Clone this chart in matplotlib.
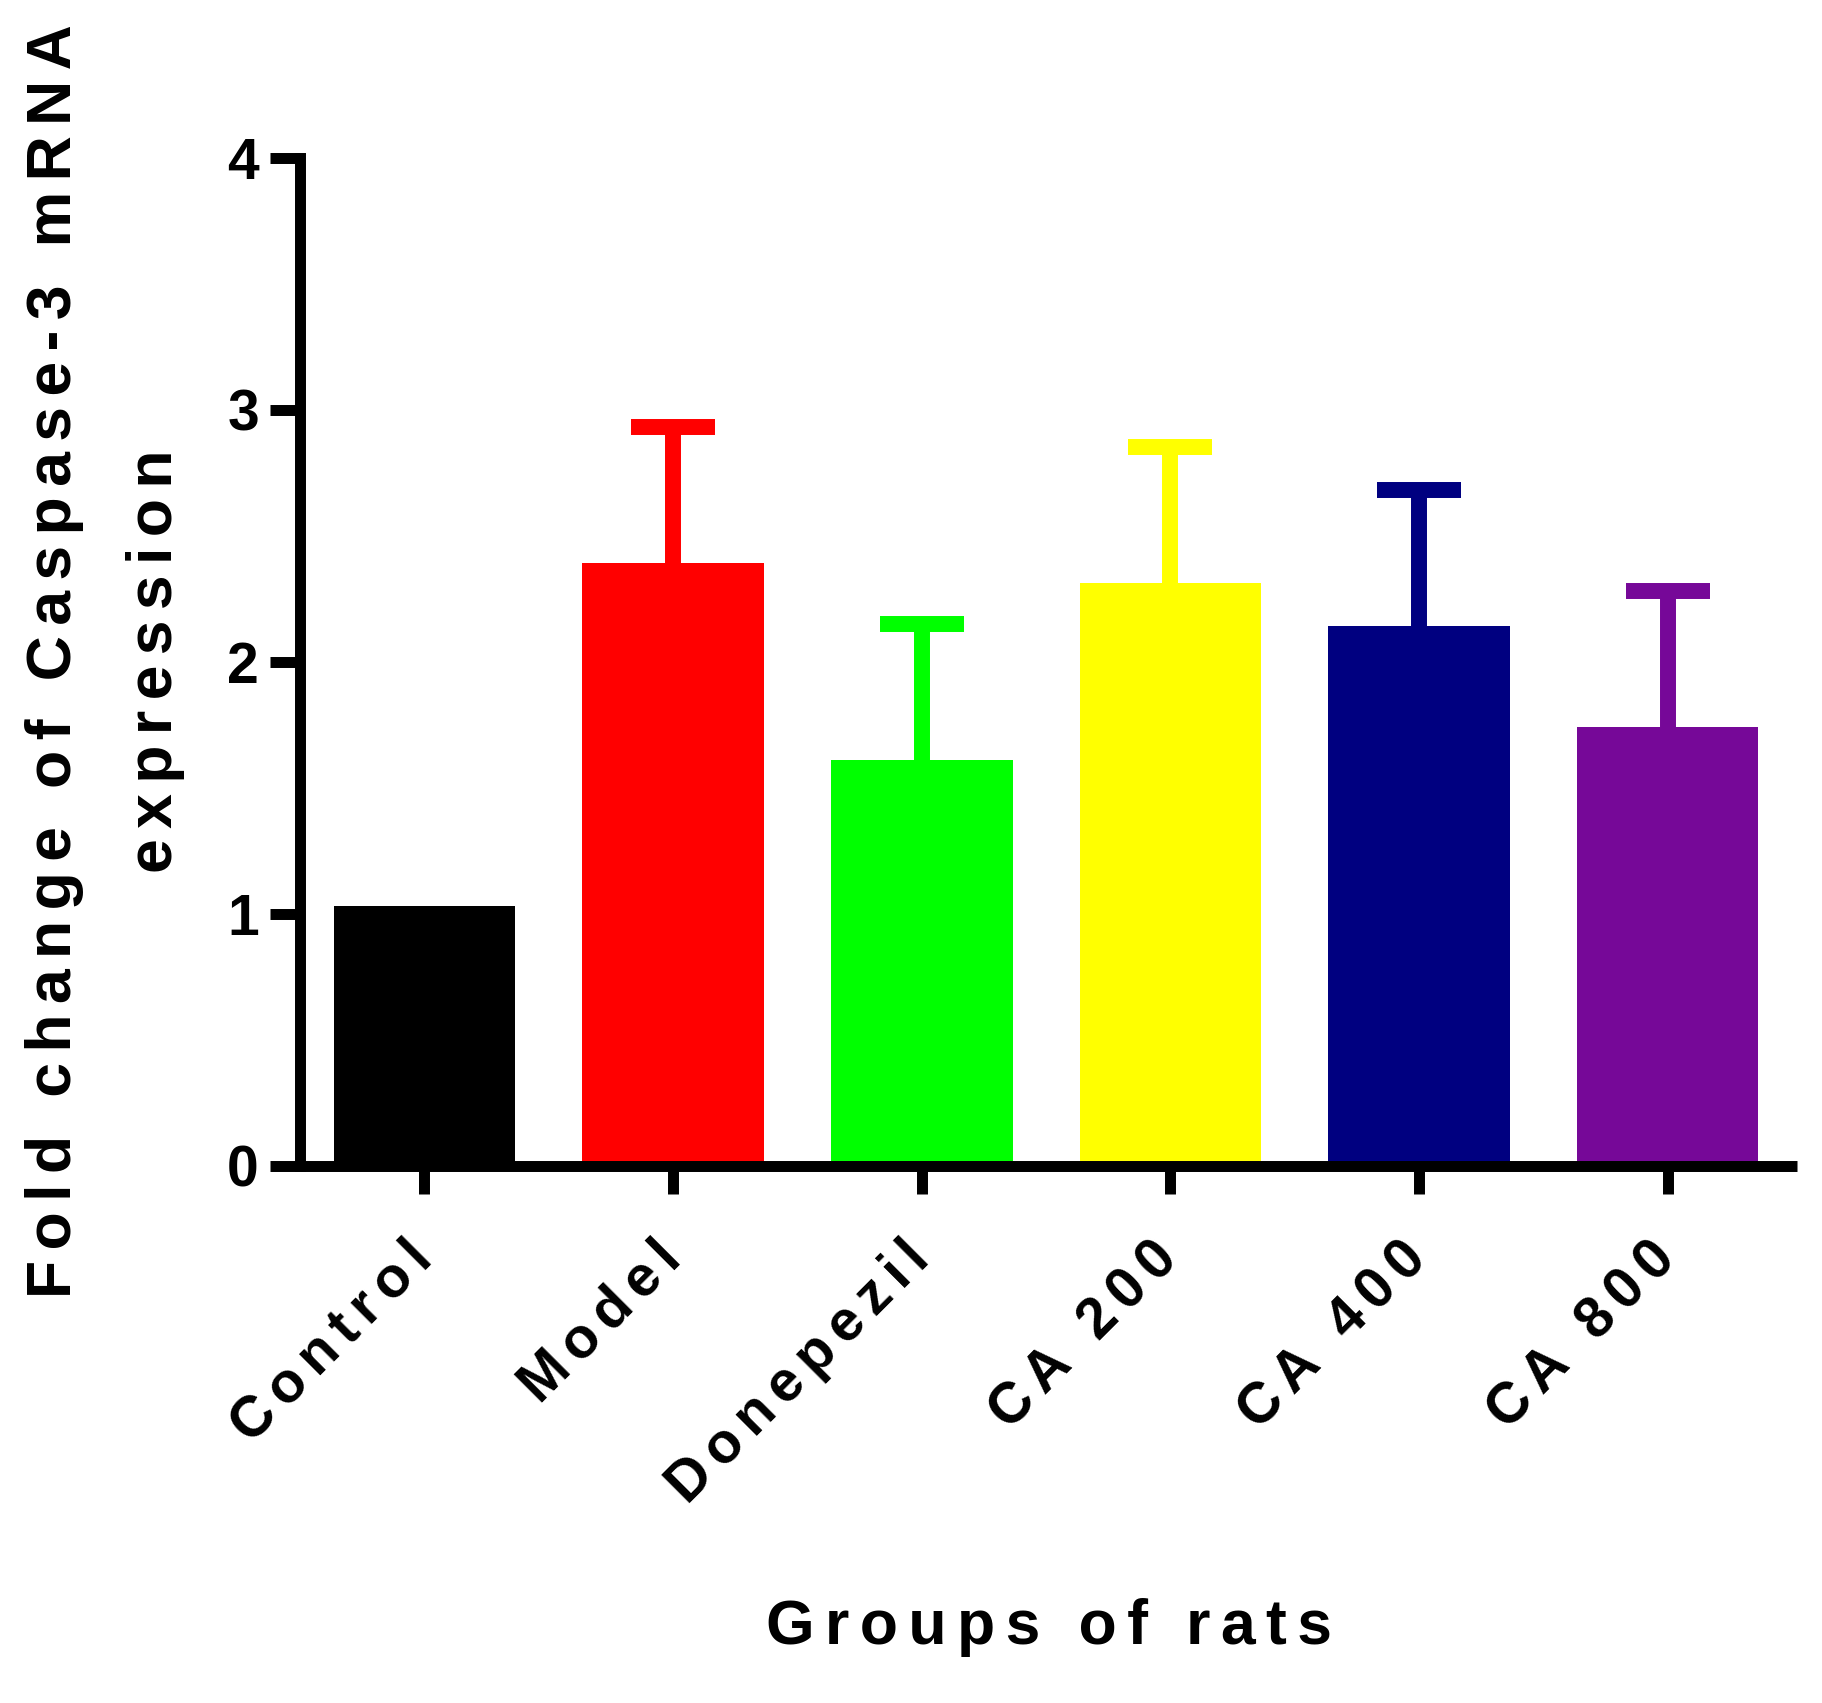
import numpy as np
import matplotlib.pyplot as plt
from matplotlib import transforms

# values
groups = ['Control', 'Model', 'Donepezil', 'CA 200', 'CA 400', 'CA 800']
means = [1.03, 2.39, 1.61, 2.31, 2.14, 1.74]
errors = [0.0, 0.54, 0.54, 0.54, 0.54, 0.54]
colors = ['#000000', '#ff0000', '#00ff00', '#ffff00', '#000080', '#760898']
yticks = [0, 1, 2, 3, 4]

# Prism-style letter spacing (six-per-em space between letters)
GAP = '\u2006'


def spaced(s):
    return GAP.join(s)


plt.rcParams['font.family'] = ['Liberation Sans', 'DejaVu Sans']
plt.rcParams['font.weight'] = 'bold'

fig = plt.figure(figsize=(18.22, 17.03), dpi=100)
ax = fig.add_axes([0.1647, 0.3156, 0.8216, 0.5919])

x = np.arange(len(groups))
ax.bar(x, means, width=0.73, color=colors, zorder=2)

# upper error bars only
for xi, m, e, c in zip(x, means, errors, colors):
    if e <= 0:
        continue
    ax.vlines(xi, m, m + e, colors=c, linewidth=11.5, capstyle='butt', zorder=3)
    ax.hlines(m + e, xi - 0.169, xi + 0.169, colors=c, linewidth=11.5,
              capstyle='butt', zorder=3)

ax.set_xlim(-0.5, 5.52)
ax.set_ylim(0, 4)
ax.set_yticks(yticks)
ax.set_yticklabels([str(t) for t in yticks])
ax.set_xticks(x)
ax.set_xticklabels([spaced(g) for g in groups], rotation=45, ha='right',
                   va='top', rotation_mode='anchor')

for side in ['top', 'right']:
    ax.spines[side].set_visible(False)
for side in ['left', 'bottom']:
    ax.spines[side].set_linewidth(7.9)
ax.spines['left'].set_capstyle('projecting')
ax.spines['bottom'].set_capstyle('butt')

ax.tick_params(axis='y', width=7.9, length=21.6, pad=8, labelsize=41)
ax.tick_params(axis='x', width=7.9, length=20.5, pad=27, labelsize=41)

shift = transforms.ScaledTranslation(-20 / 100, 0, fig.dpi_scale_trans)
for lab in ax.get_xticklabels():
    lab.set_transform(lab.get_transform() + shift)

ax.set_ylabel(spaced('Fold change of Caspase-3 mRNA') + '\n' + spaced('expression'),
              fontsize=45, fontweight='bold', linespacing=1.9)
ax.yaxis.set_label_coords(-0.077, 0.5)
ax.set_xlabel(spaced('Groups of rats'), fontsize=45, fontweight='bold')
ax.xaxis.set_label_coords(0.5, -0.429)

fig.savefig('out.png', dpi=100, facecolor='white')
